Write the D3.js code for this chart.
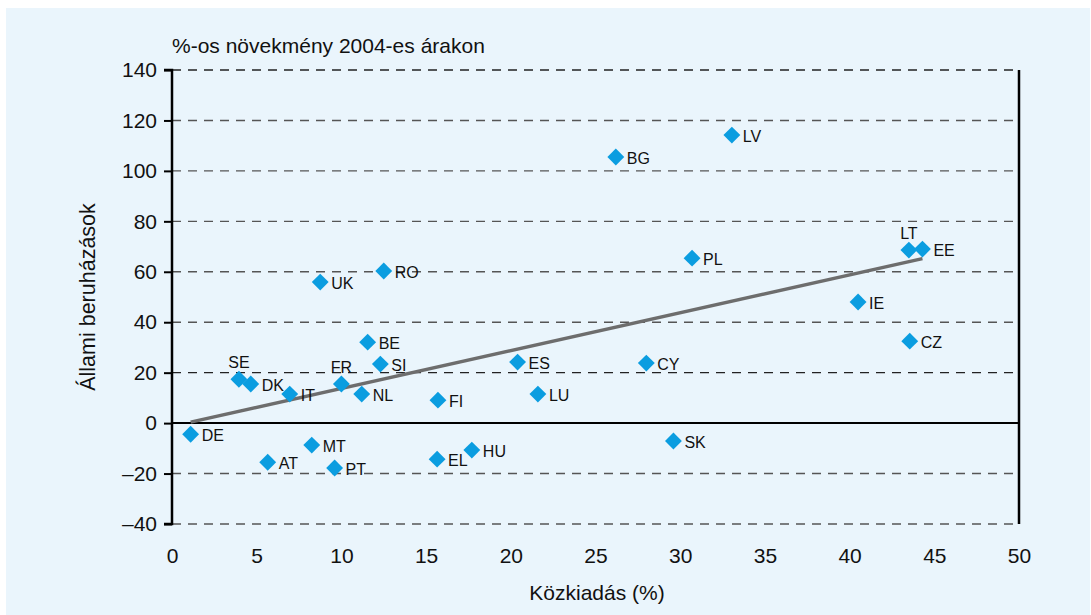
<!DOCTYPE html>
<html>
<head>
<meta charset="utf-8">
<script src="https://cdn.jsdelivr.net/npm/d3@7"></script>
<style>
  body { margin: 0; background: #fff; }
  text { font-family: "Liberation Sans", Arial, sans-serif; fill: #111; }
</style>
</head>
<body>
<svg></svg>
<script>
const countries = ["DE", "SE", "DK", "IT", "FR", "NL", "BE", "SI", "UK", "RO", "AT", "MT", "PT", "EL", "HU", "FI", "ES", "LU", "BG", "LV", "PL", "CY", "SK", "IE", "LT", "EE", "CZ"];
const spending = [1.1, 3.95, 4.65, 6.95, 10.0, 11.2, 11.55, 12.3, 8.75, 12.5, 5.65, 8.25, 9.6, 15.65, 17.7, 15.7, 20.4, 21.6, 26.2, 33.05, 30.7, 28.0, 29.6, 40.5, 43.5, 44.3, 43.55];
const investment = [-4.4, 17.4, 15.5, 11.5, 15.5, 11.5, 32.1, 23.4, 55.9, 60.3, -15.5, -8.7, -17.8, -14.3, -10.7, 9.1, 24.2, 11.5, 105.5, 114.2, 65.4, 23.8, -7.1, 48, 68.6, 69, 32.5];
const labelAbove = ["SE", "FR", "LT"];
const trendX = [1.1, 44.3];
const trendY = [0.4, 65.2];
const xTicks = [0, 5, 10, 15, 20, 25, 30, 35, 40, 45, 50];
const yTicks = [-40, -20, 0, 20, 40, 60, 80, 100, 120, 140];

const width = 1091;
const height = 615;
const svg = d3.select("svg").attr("width", width).attr("height", height);

svg.append("rect")
  .attr("x", 6).attr("y", 8)
  .attr("width", width - 7).attr("height", height - 8)
  .attr("fill", "#eaf5fc");

const x = d3.scaleLinear().domain([0, 50]).range([172, 1019]);
const y = d3.scaleLinear().domain([-40, 140]).range([524, 70]);

// gridlines
svg.append("g")
  .selectAll("line")
  .data(yTicks.filter(d => d !== 0))
  .enter()
  .append("line")
  .attr("x1", x(0)).attr("x2", x(50))
  .attr("y1", d => y(d)).attr("y2", d => y(d))
  .attr("stroke", d => (d === 20 || d === 140) ? "#222" : "#555")
  .attr("stroke-width", 1.4)
  .attr("stroke-dasharray", "9,7");

// zero line
svg.append("line")
  .attr("x1", x(0)).attr("x2", x(50))
  .attr("y1", y(0)).attr("y2", y(0))
  .attr("stroke", "#000").attr("stroke-width", 2);

// right border
svg.append("line")
  .attr("x1", x(50)).attr("x2", x(50))
  .attr("y1", y(140)).attr("y2", y(-40))
  .attr("stroke", "#000").attr("stroke-width", 2.5);

// y axis
const yAxis = svg.append("g")
  .attr("transform", `translate(${x(0)},0)`)
  .call(d3.axisLeft(y).tickValues(yTicks).tickSize(8).tickPadding(7)
    .tickFormat(d => d < 0 ? "\u2013" + Math.abs(d) : d));
yAxis.select(".domain").attr("stroke-width", 2.5).attr("d", `M-8,${y(140)}H0V${y(-40)}H-8`);
yAxis.selectAll(".tick line").attr("stroke-width", 2);
yAxis.selectAll("text").attr("font-size", 21).style("font-family", "Liberation Sans, Arial, sans-serif").attr("fill", "#111");

// x axis labels
const xAxis = svg.append("g")
  .attr("transform", `translate(0,${y(-40)})`)
  .call(d3.axisBottom(x).tickValues(xTicks).tickSize(0).tickPadding(0));
xAxis.select(".domain").remove();
xAxis.selectAll("text").attr("font-size", 21).attr("dy", null).attr("y", 39)
  .style("font-family", "Liberation Sans, Arial, sans-serif").attr("fill", "#111");

// trend line
svg.append("line")
  .attr("x1", x(trendX[0])).attr("y1", y(trendY[0]))
  .attr("x2", x(trendX[1])).attr("y2", y(trendY[1]))
  .attr("stroke", "#6d6d6d").attr("stroke-width", 3.5);

const points = countries.map((c, i) => ({ c: c, x: spending[i], y: investment[i] }));

svg.append("g")
  .selectAll("path")
  .data(points)
  .enter()
  .append("path")
  .attr("d", d3.symbol().type(d3.symbolSquare).size(142))
  .attr("transform", d => `translate(${x(d.x)},${y(d.y)}) rotate(45)`)
  .attr("fill", "#0b9de0");

svg.append("g")
  .selectAll("text")
  .data(points)
  .enter()
  .append("text")
  .attr("x", d => labelAbove.includes(d.c) ? x(d.x) : x(d.x) + 11)
  .attr("y", d => labelAbove.includes(d.c) ? y(d.y) - 11 : y(d.y) + 7)
  .attr("text-anchor", d => labelAbove.includes(d.c) ? "middle" : "start")
  .attr("font-size", 16)
  .text(d => d.c);

svg.append("text")
  .attr("x", 172).attr("y", 53)
  .attr("font-size", 21)
  .text("%-os növekmény 2004-es árakon");

svg.append("text")
  .attr("x", 597).attr("y", 600)
  .attr("text-anchor", "middle")
  .attr("font-size", 21)
  .text("Közkiadás (%)");

svg.append("text")
  .attr("transform", `translate(95,${y(50)}) rotate(-90)`)
  .attr("text-anchor", "middle")
  .attr("font-size", 21.5)
  .text("Állami beruházások");
</script>
</body>
</html>
